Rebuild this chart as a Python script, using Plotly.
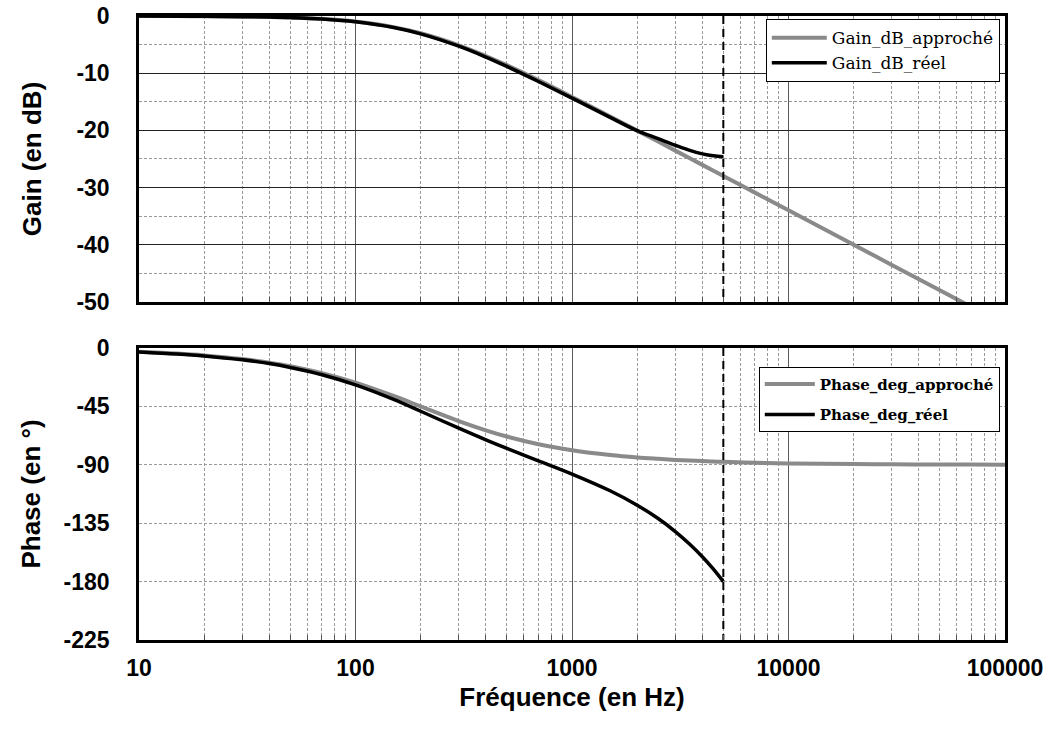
import plotly.graph_objects as go
from plotly.subplots import make_subplots

# ---------------- data ----------------
freq_approx = [10, 15, 20, 30, 40, 50, 70, 100, 150, 200, 300, 400, 500, 700,
               1000, 1500, 2000, 2500, 3000, 3500, 4000, 4500, 5000, 7000,
               10000, 20000, 30000, 50000, 70000, 100000]
gain_approx = [-0.01, -0.02, -0.04, -0.10, -0.17, -0.26, -0.50, -0.97, -1.94, -3.01,
               -5.12, -6.99, -8.60, -11.22, -14.15, -17.58, -20.04, -21.96, -23.54,
               -24.87, -26.03, -27.05, -27.97, -30.88, -33.98, -40.00, -43.52,
               -47.96, -50.88, -53.98]
phase_approx = [-2.9, -4.3, -5.7, -8.5, -11.3, -14.0, -19.3, -26.6, -36.9, -45.0,
                -56.3, -63.4, -68.2, -74.1, -78.7, -82.4, -84.3, -85.4, -86.2,
                -86.7, -87.1, -87.5, -87.7, -88.4, -88.9, -89.4, -89.6, -89.8,
                -89.8, -89.9]

freq_real = [10, 15, 20, 30, 40, 50, 70, 100, 150, 200, 300, 400, 500, 700,
             1000, 1500, 2000, 2500, 3000, 3500, 4000, 4500, 5000]
gain_real = [-0.01, -0.03, -0.05, -0.11, -0.18, -0.28, -0.53, -1.02, -2.02, -3.12,
             -5.28, -7.18, -8.82, -11.45, -14.35, -17.72, -20.05, -21.45, -22.60,
             -23.50, -24.10, -24.45, -24.60]
phase_real = [-3.0, -4.6, -6.1, -9.1, -12.0, -15.0, -20.6, -28.4, -39.6, -48.7,
              -61.8, -70.8, -77.4, -86.9, -97.1, -110.0, -121.1, -131.4, -141.4,
              -151.2, -160.8, -170.4, -180.0]

f_limit = 5000  # vertical dashed marker

gain_ticks = [0, -10, -20, -30, -40, -50]
phase_ticks = [0, -45, -90, -135, -180, -225]
freq_ticks = [10, 100, 1000, 10000, 100000]
freq_minor = [m * d for d in (10, 100, 1000, 10000) for m in range(2, 10)]

GREY = "#8a8a8a"
BLACK = "#000000"

fig = make_subplots(rows=2, cols=1, shared_xaxes=True, vertical_spacing=0.0737)

fig.add_trace(go.Scatter(x=freq_approx, y=gain_approx, mode="lines", name="Gain_dB_approché",
                         line=dict(color=GREY, width=4, shape="spline"), legend="legend"), row=1, col=1)
fig.add_trace(go.Scatter(x=freq_real, y=gain_real, mode="lines", name="Gain_dB_réel",
                         line=dict(color=BLACK, width=3.5, shape="spline"), legend="legend"), row=1, col=1)
fig.add_trace(go.Scatter(x=[f_limit, f_limit], y=[gain_ticks[0], gain_ticks[-1]], mode="lines",
                         line=dict(color=BLACK, width=2, dash="8px,5px"), showlegend=False,
                         hoverinfo="skip"), row=1, col=1)

fig.add_trace(go.Scatter(x=freq_approx, y=phase_approx, mode="lines", name="Phase_deg_approché",
                         line=dict(color=GREY, width=4, shape="spline"), legend="legend2",
                         legendgroup="a"), row=2, col=1)
fig.add_trace(go.Scatter(x=freq_real, y=phase_real, mode="lines", name="Phase_deg_réel",
                         line=dict(color=BLACK, width=3.5, shape="spline"), legend="legend2",
                         legendgroup="b"), row=2, col=1)
fig.add_trace(go.Scatter(x=[f_limit, f_limit], y=[phase_ticks[0], phase_ticks[-1]], mode="lines",
                         line=dict(color=BLACK, width=2, dash="8px,5px"), showlegend=False,
                         hoverinfo="skip"), row=2, col=1)

tickfont = dict(family="Liberation Sans", size=23, color="black")
titlefont = dict(family="Liberation Sans", size=26, color="black")
minor_dash = dict(tickmode="array", tickvals=freq_minor, showgrid=True, gridcolor="#9a9a9a",
                  griddash="3px,2px", gridwidth=1, ticks="inside", ticklen=5, tickcolor="#555")

def bold(vals):
    return ["<b>%s</b>" % v for v in vals]

for r in (1, 2):
    fig.update_xaxes(type="log", range=[1, 5], tickmode="array", tickvals=freq_ticks,
                     ticktext=bold(freq_ticks),
                     showgrid=True, gridcolor="#5a5a5a", gridwidth=1,
                     showline=True, linecolor="black", linewidth=2.5, mirror=True,
                     ticks="", minor=minor_dash, tickfont=tickfont, zeroline=False,
                     automargin=False, row=r, col=1)

fig.update_xaxes(showticklabels=False, row=1, col=1)
fig.update_xaxes(showticklabels=True, ticklabelstandoff=6,
                 title=dict(text="<b>Fréquence (en Hz)</b>", font=titlefont, standoff=8),
                 row=2, col=1)

fig.update_yaxes(range=[-50, 0], tickmode="array", tickvals=gain_ticks,
                 ticktext=bold(gain_ticks),
                 showgrid=True, gridcolor="#222222", gridwidth=1,
                 minor=dict(dtick=5, tick0=0, showgrid=True, gridcolor="#9a9a9a",
                            griddash="3px,2px", gridwidth=1),
                 showline=True, linecolor="black", linewidth=2.5, mirror=True,
                 ticks="", tickfont=tickfont, zeroline=False, ticklabelstandoff=22,
                 automargin=False,
                 title=dict(text="<b>Gain (en dB)</b>", font=titlefont, standoff=28), row=1, col=1)

fig.update_yaxes(range=[-225, 0], tickmode="array", tickvals=phase_ticks,
                 ticktext=bold(phase_ticks),
                 showgrid=True, gridcolor="#9a9a9a", griddash="3px,2px", gridwidth=1,
                 showline=True, linecolor="black", linewidth=2.5, mirror=True,
                 ticks="", tickfont=tickfont, zeroline=False, ticklabelstandoff=22,
                 automargin=False,
                 title=dict(text="<b>Phase (en °)</b>", font=titlefont, standoff=16), row=2, col=1)

fig.update_layout(
    width=1052, height=742,
    margin=dict(l=139, r=47, t=16, b=102),
    paper_bgcolor="white", plot_bgcolor="white",
    xaxis=dict(domain=[0, 1]),
    yaxis=dict(domain=[0.5417, 1.0]),
    yaxis2=dict(domain=[0.0, 0.4679]),
    legend=dict(x=0.994, y=0.995, xanchor="right", yanchor="top",
                bgcolor="white", bordercolor="black", borderwidth=1,
                font=dict(family="DejaVu Serif", size=17, color="black"),
                itemwidth=55, tracegroupgap=0),
    legend2=dict(x=0.994, y=0.438, xanchor="right", yanchor="top",
                 bgcolor="white", bordercolor="black", borderwidth=1,
                 font=dict(family="DejaVu Serif", size=15, color="black", weight="bold"),
                 traceorder="grouped", tracegroupgap=8, itemwidth=50),
    showlegend=True,
)

fig.write_html("out.html", config={"displayModeBar": False},
               post_script="document.body.style.margin='0';document.body.style.overflow='hidden';")
